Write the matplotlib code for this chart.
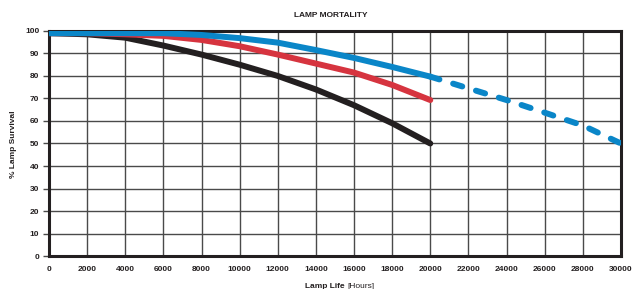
import numpy as np
import matplotlib
matplotlib.use("Agg")
import matplotlib.pyplot as plt

plt.rcParams["font.family"] = ["Liberation Sans Narrow", "Liberation Sans", "DejaVu Sans"]
plt.rcParams["font.stretch"] = "condensed"

COLOR_BLACK = "#231f20"
COLOR_RED = "#d6343f"
COLOR_BLUE = "#0a86c8"
GRID_COLOR = "#4a4a4a"

# hours
hours = [0, 2000, 4000, 6000, 8000, 10000, 12000, 14000, 16000, 18000, 20000]
hours_ext = [20000, 22000, 24000, 26000, 28000, 30000]

# % lamp survival
black_surv = [99, 98.5, 97, 93.5, 89.5, 85, 80, 74, 67, 59, 50]
red_surv = [99, 99, 98.5, 97.8, 96, 93.2, 89.5, 85.5, 81.5, 76, 69.3]
blue_surv = [99, 99, 99, 99, 98.2, 96.8, 94.8, 91.5, 88, 84, 79.7]
blue_ext = [79.7, 74.5, 69.3, 63.7, 58, 50]

xticks = np.arange(0, 30001, 2000)
yticks = np.arange(0, 101, 10)


def main():
    fig = plt.figure(figsize=(6.32, 2.89), dpi=100)
    ax = fig.add_axes([0.0775, 0.114, 0.905, 0.779])

    lw = 4.3
    ax.plot(hours, black_surv, color=COLOR_BLACK, lw=lw, solid_capstyle="round", zorder=3)
    ax.plot(hours, red_surv, color=COLOR_RED, lw=lw, solid_capstyle="round", zorder=4)
    ax.plot(hours, blue_surv, color=COLOR_BLUE, lw=lw, solid_capstyle="round", zorder=5)
    ax.plot(hours_ext, blue_ext, color=COLOR_BLUE, lw=lw, dashes=(1.6, 2.4),
            dash_capstyle="round", zorder=5)

    ax.set_xlim(0, 30000)
    ax.set_ylim(0, 100)
    ax.set_xticks(xticks)
    ax.set_yticks(yticks)
    ax.set_xticklabels([str(v) for v in xticks], fontsize=6.0, fontweight="bold", color="#231f20")
    ax.set_yticklabels([str(v) for v in yticks], fontsize=6.0, fontweight="bold", color="#231f20")
    ax.tick_params(axis="x", length=0, pad=7)
    ax.tick_params(axis="y", length=4, width=1.0, color=GRID_COLOR, pad=3)
    ax.grid(True, color=GRID_COLOR, lw=1.0, zorder=1)
    ax.set_axisbelow(True)

    for side in ["left", "bottom", "right", "top"]:
        ax.spines[side].set_color(COLOR_BLACK)
        ax.spines[side].set_linewidth(2.2)

    fig.text(0.523, 0.945, "LAMP MORTALITY", ha="center", va="center",
             fontsize=6.0, fontweight="bold", color="#231f20")
    fig.text(0.022, 0.5, "% Lamp Survival", rotation=90, ha="center", va="center",
             fontsize=6.0, fontweight="bold", color="#231f20")
    fig.text(0.545, -0.005, "Lamp Life", ha="right", va="bottom",
             fontsize=6.0, fontweight="bold", color="#231f20")
    fig.text(0.549, -0.005, "[Hours]", ha="left", va="bottom",
             fontsize=6.0, color="#231f20")

    fig.savefig("out.png", dpi=100)
    plt.close(fig)


if __name__ == "__main__":
    main()
